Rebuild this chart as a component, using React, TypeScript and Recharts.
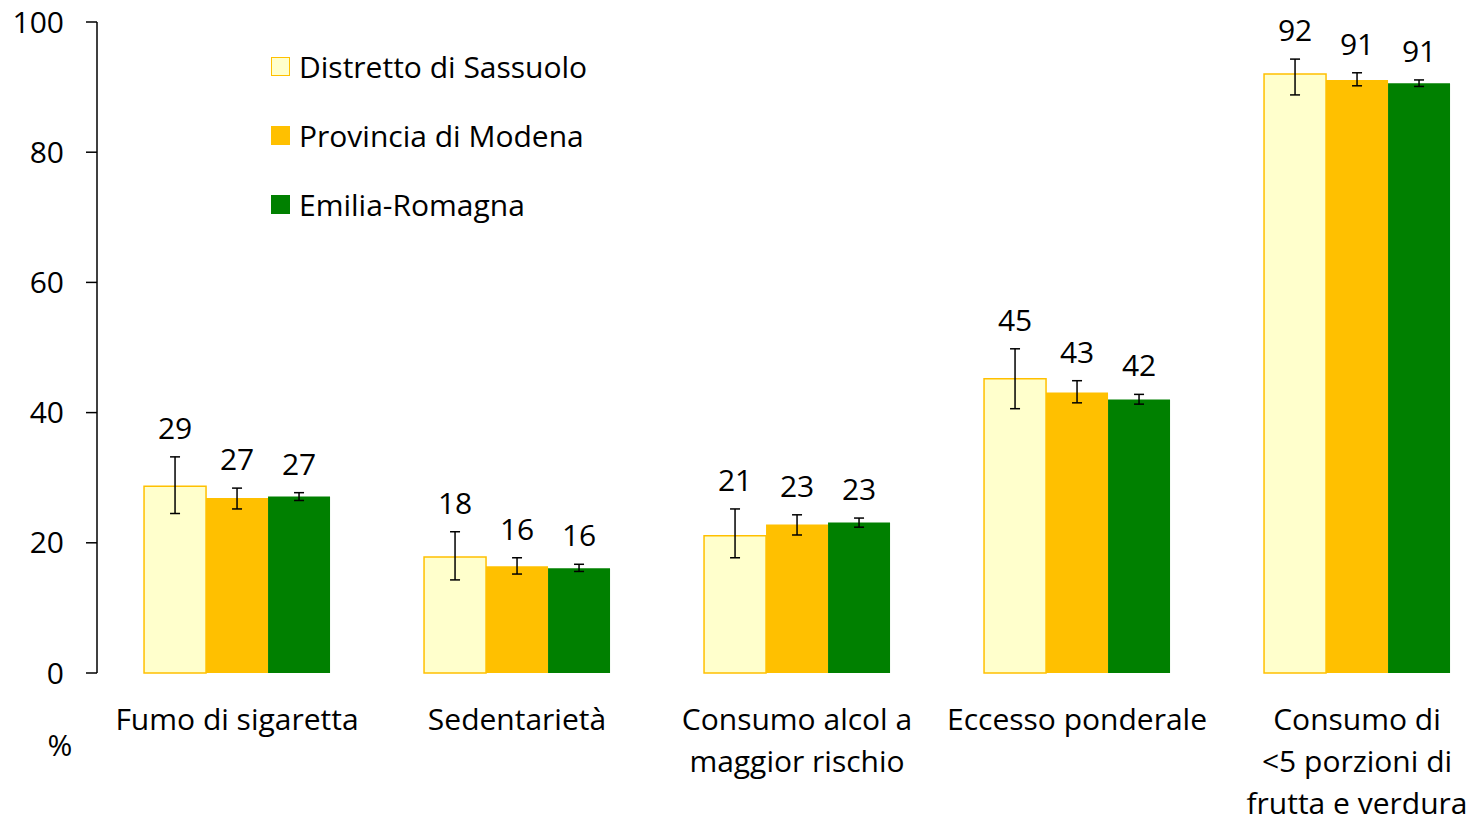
import { BarChart, Bar, XAxis, YAxis, ErrorBar, LabelList, Legend, Label } from 'recharts';

const categories = [
  'Fumo di sigaretta',
  'Sedentarietà',
  'Consumo alcol a\nmaggior rischio',
  'Eccesso ponderale',
  'Consumo di\n<5 porzioni di\nfrutta e verdura',
];

const seriesNames = ['Distretto di Sassuolo', 'Provincia di Modena', 'Emilia-Romagna'];

const sassuolo = [28.7, 17.8, 21.1, 45.2, 92.0];
const sassuoloLow = [24.5, 14.3, 17.7, 40.6, 88.8];
const sassuoloHigh = [33.2, 21.7, 25.2, 49.8, 94.3];

const modena = [26.9, 16.4, 22.8, 43.1, 91.1];
const modenaLow = [25.2, 15.2, 21.2, 41.5, 90.2];
const modenaHigh = [28.4, 17.7, 24.3, 44.9, 92.2];

const emilia = [27.1, 16.1, 23.1, 42.0, 90.6];
const emiliaLow = [26.5, 15.6, 22.4, 41.3, 90.1];
const emiliaHigh = [27.7, 16.7, 23.8, 42.8, 91.1];

const yTicks = [0, 20, 40, 60, 80, 100];

const FONT = '"Open Sans", "Noto Sans", sans-serif';
const FS = 30;

const data = categories.map((name, i) => ({
  name,
  s: sassuolo[i],
  sErr: [sassuolo[i] - sassuoloLow[i], sassuoloHigh[i] - sassuolo[i]],
  m: modena[i],
  mErr: [modena[i] - modenaLow[i], modenaHigh[i] - modena[i]],
  e: emilia[i],
  eErr: [emilia[i] - emiliaLow[i], emiliaHigh[i] - emilia[i]],
}));

const highs: Record<string, number[]> = { s: sassuoloHigh, m: modenaHigh, e: emiliaHigh };

// value label sits just above the upper end of the error bar
const makeLabel = (key: string) => (props: any) => {
  const { x, y, width, height, value, index } = props;
  const pxPerUnit = height / value;
  const top = y - (highs[key][index] - value) * pxPerUnit;
  return (
    <text x={x + width / 2} y={top - 18} textAnchor="middle" fontSize={FS} fontFamily={FONT} fill="#000">
      {Math.round(value)}
    </text>
  );
};

const CategoryTick = (props: any) => {
  const { x, y, payload } = props;
  const lines = String(payload.value).split('\n');
  return (
    <text x={x} y={y} textAnchor="middle" fontSize={FS} fontFamily={FONT} fill="#000">
      {lines.map((l, i) => (
        <tspan key={i} x={x} dy={i === 0 ? 49 : 42}>
          {l}
        </tspan>
      ))}
    </text>
  );
};

const legendColors = [
  { fill: '#FFFFCC', stroke: '#FFC000' },
  { fill: '#FFC000', stroke: '#FFC000' },
  { fill: '#008000', stroke: '#008000' },
];

const LegendBox = () => (
  <div style={{ fontFamily: FONT, fontSize: FS, color: '#000', whiteSpace: 'nowrap' }}>
    {seriesNames.map((n, i) => (
      <div key={n} style={{ display: 'flex', alignItems: 'center', height: 69 }}>
        <span
          style={{
            display: 'inline-block',
            width: 17,
            height: 17,
            background: legendColors[i].fill,
            border: `1.5px solid ${legendColors[i].stroke}`,
            marginRight: 9,
          }}
        />
        {n}
      </div>
    ))}
  </div>
);

export default function App() {
  return (
    <div style={{ position: 'absolute', left: 0, top: 0, width: 1471, height: 820, overflow: 'hidden', background: '#fff' }}>
      <BarChart
        width={1500}
        height={820}
        data={data}
        margin={{ top: 22, right: 3, left: 0, bottom: 0 }}
        barCategoryGap="16.8%"
        barGap={0}
      >
        <XAxis dataKey="name" axisLine={false} tickLine={false} height={147} interval={0} tick={<CategoryTick />} />
        <YAxis
          width={97}
          domain={[0, 100]}
          ticks={yTicks}
          interval={0}
          tickSize={11}
          tickMargin={22}
          axisLine={{ stroke: '#000', strokeWidth: 1.5 }}
          tickLine={{ stroke: '#000', strokeWidth: 1.5 }}
          tick={{ fontSize: FS, fontFamily: FONT, fill: '#000' }}
        >
          <Label
            content={(p: any) => {
              const vb = p.viewBox;
              return (
                <text x={vb.x + 60} y={vb.y + vb.height + 83} textAnchor="middle" fontSize={FS} fontFamily={FONT} fill="#000">
                  %
                </text>
              );
            }}
          />
        </YAxis>
        <Legend
          content={<LegendBox />}
          layout="vertical"
          align="center"
          verticalAlign="middle"
          wrapperStyle={{ left: 271, top: 32, width: 420 }}
        />
        <Bar dataKey="s" name={seriesNames[0]} fill="#FFFFCC" stroke="#FFC000" strokeWidth={1.5} isAnimationActive={false}>
          <ErrorBar dataKey="sErr" width={5} stroke="#000" strokeWidth={1.5} />
          <LabelList dataKey="s" content={makeLabel('s')} />
        </Bar>
        <Bar dataKey="m" name={seriesNames[1]} fill="#FFC000" isAnimationActive={false}>
          <ErrorBar dataKey="mErr" width={5} stroke="#000" strokeWidth={1.5} />
          <LabelList dataKey="m" content={makeLabel('m')} />
        </Bar>
        <Bar dataKey="e" name={seriesNames[2]} fill="#008000" isAnimationActive={false}>
          <ErrorBar dataKey="eErr" width={5} stroke="#000" strokeWidth={1.5} />
          <LabelList dataKey="e" content={makeLabel('e')} />
        </Bar>
      </BarChart>
    </div>
  );
}
